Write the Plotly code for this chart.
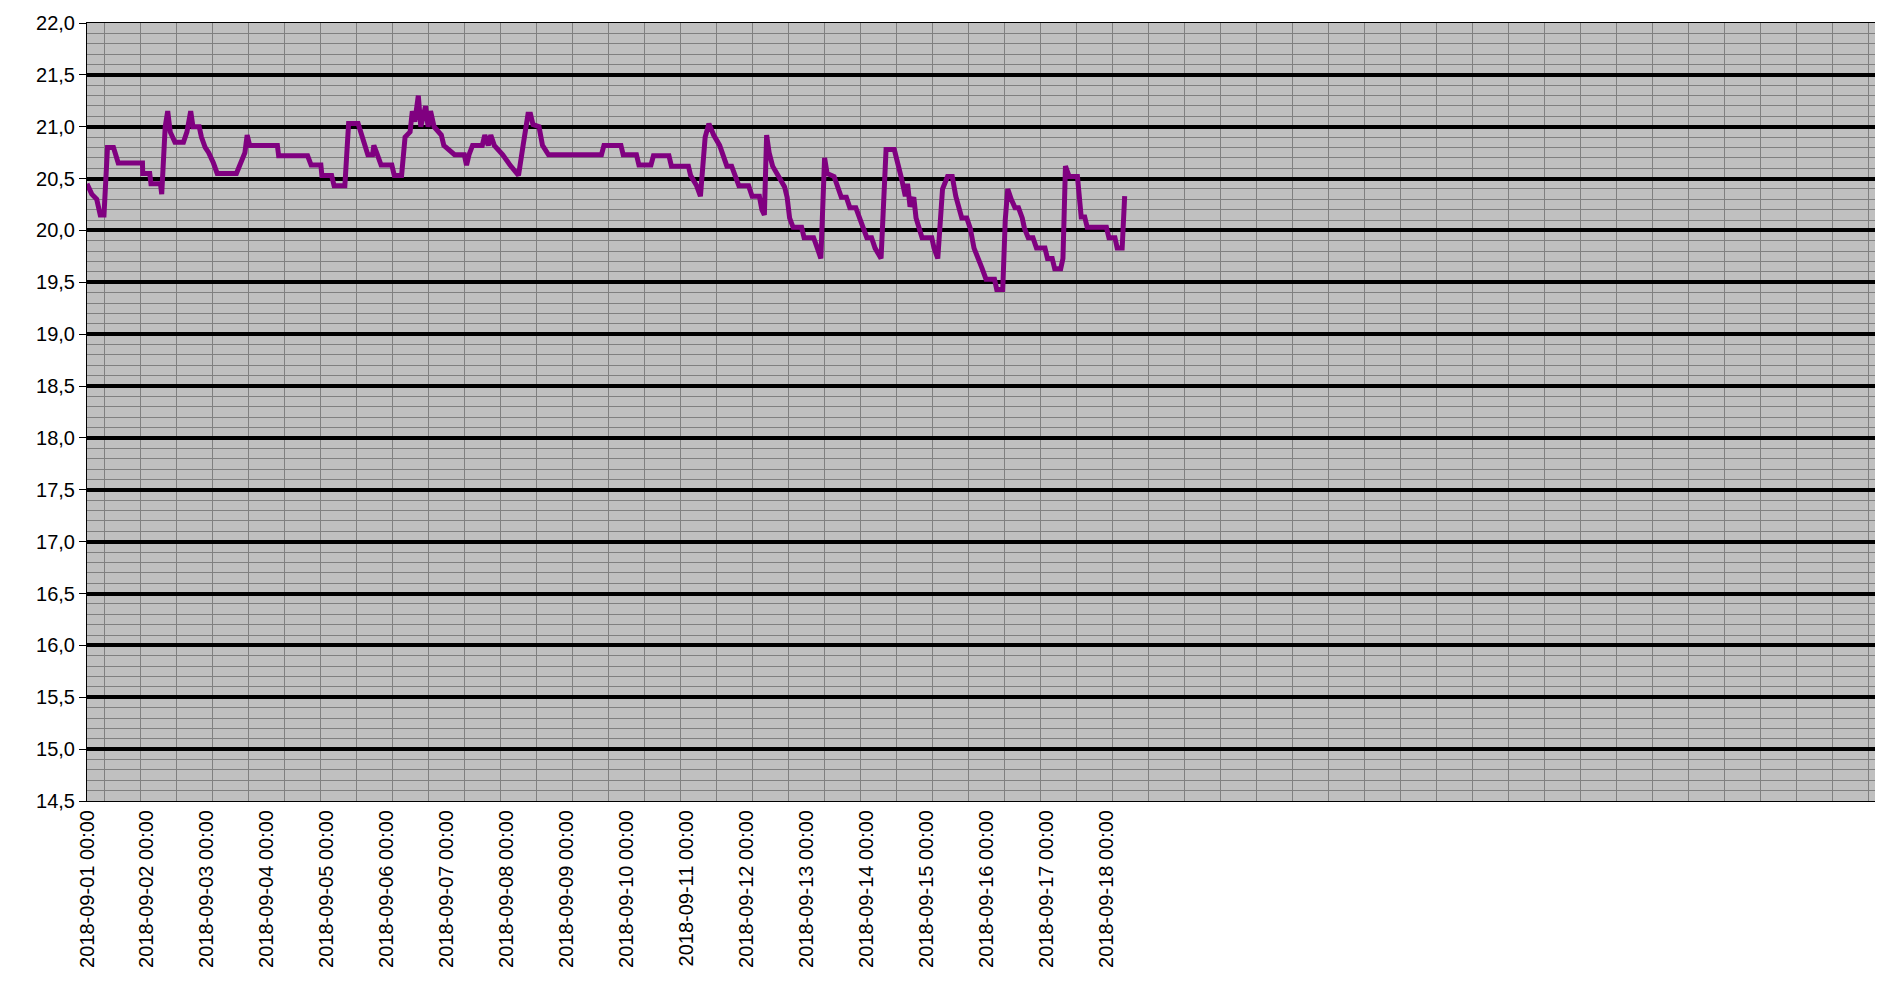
import datetime as dt
import plotly.graph_objects as go

start = dt.datetime(2018, 9, 1)

# hours after 2018-09-01 00:00 and temperature readings
hours = [0, 1.9, 3.9, 5.3, 6.8, 7.7, 8.2, 10.6, 11.6, 12.5, 22.2, 22.3, 25.1, 25.6, 29.4, 29.9,
         31.3, 32.3, 33.3, 35.2, 38.6, 40.0, 41.5, 42.4, 44.9, 45.8, 47.3, 48.7, 50.6, 52.1, 59.8,
         61.3, 63.2, 64.1, 65.1, 76.2, 76.7, 88.3, 89.7, 93.6, 94.0, 97.9, 98.9, 103.2, 104.7,
         108.5, 110.0, 110.9, 112.4, 114.3, 114.8, 116.2, 117.7, 122.0, 123.0, 125.9, 127.3,
         129.3, 130.2, 131.2, 132.6, 133.6, 135.5, 136.5, 137.5, 138.9, 141.8, 142.8, 147.1,
         151.0, 151.9, 152.9, 154.3, 158.2, 159.2, 160.6, 161.6, 163.0, 166.4, 169.3, 172.7,
         174.6, 176.5, 177.5, 178.5, 180.9, 182.3, 184.7, 205.9, 206.9, 213.7, 214.6, 219.9,
         220.9, 225.7, 226.7, 232.9, 233.9, 240.7, 241.6, 244.0, 245.5, 247.4, 248.9, 250.8,
         253.2, 254.7, 256.1, 258.0, 259.5, 260.9, 264.8, 266.2, 269.1, 270.1, 271.1, 272.0,
         273.0, 274.4, 276.8, 279.2, 280.2, 281.2, 282.6, 286.0, 287.0, 290.8, 292.3, 293.7,
         295.2, 296.2, 299.0, 300.5, 301.9, 303.9, 305.3, 307.7, 309.2, 310.6, 312.1, 314.0,
         315.4, 317.8, 319.8, 323.1, 324.6, 326.0, 327.5, 328.4, 329.4, 330.9, 331.8, 334.2,
         338.1, 339.0, 340.5, 342.4, 344.4, 346.3, 347.7, 349.2, 350.1, 352.1, 353.5, 355.0,
         356.9, 358.3, 359.8, 363.2, 364.1, 366.5, 367.5, 368.5, 369.9, 371.4, 372.8, 374.3,
         375.2, 376.7, 378.6, 380.0, 383.4, 384.4, 386.3, 387.3, 389.7, 390.6, 391.6, 393.1,
         396.4, 397.9, 399.3, 400.3, 408.0, 409.0, 411.4, 412.3, 414.3, 415.3]
temps = [20.45, 20.35, 20.3, 20.15, 20.15, 20.6, 20.8, 20.8, 20.7, 20.65, 20.65, 20.55, 20.55, 20.45,
         20.45, 20.35, 21.0, 21.15, 20.95, 20.85, 20.85, 20.95, 21.15, 21.0, 21.0, 20.9, 20.8, 20.75,
         20.65, 20.55, 20.55, 20.65, 20.75, 20.92, 20.82, 20.82, 20.72, 20.72, 20.63, 20.63, 20.53,
         20.53, 20.43, 20.43, 21.03, 21.03, 20.92, 20.83, 20.73, 20.73, 20.82, 20.73, 20.63, 20.63,
         20.53, 20.53, 20.9, 20.95, 21.15, 21.05, 21.3, 21.0, 21.2, 21.0, 21.15, 21.0, 20.92, 20.82,
         20.73, 20.73, 20.63, 20.73, 20.82, 20.82, 20.92, 20.82, 20.92, 20.82, 20.73, 20.63, 20.53,
         20.83, 21.12, 21.12, 21.02, 21.0, 20.82, 20.73, 20.73, 20.82, 20.82, 20.73, 20.73, 20.63,
         20.63, 20.72, 20.72, 20.62, 20.62, 20.53, 20.43, 20.33, 20.9, 21.03, 20.92, 20.82, 20.72,
         20.62, 20.62, 20.53, 20.43, 20.43, 20.33, 20.33, 20.2, 20.15, 20.92, 20.75, 20.62, 20.52,
         20.42, 20.32, 20.12, 20.03, 20.03, 19.93, 19.93, 19.83, 19.73, 20.7, 20.55, 20.52, 20.42,
         20.32, 20.32, 20.22, 20.22, 20.12, 20.03, 19.93, 19.93, 19.83, 19.73, 20.78, 20.78, 20.65,
         20.5, 20.33, 20.45, 20.23, 20.32, 20.12, 19.93, 19.93, 19.83, 19.73, 20.4, 20.52, 20.52,
         20.33, 20.22, 20.12, 20.12, 20.02, 19.83, 19.73, 19.63, 19.53, 19.53, 19.43, 19.43, 20.1,
         20.4, 20.3, 20.22, 20.22, 20.12, 20.02, 19.93, 19.93, 19.83, 19.83, 19.73, 19.73, 19.63,
         19.63, 19.73, 20.62, 20.52, 20.52, 20.13, 20.13, 20.03, 20.03, 19.93, 19.93, 19.83, 19.83,
         20.33]

tick_days = list(range(18))

x = [start + dt.timedelta(hours=h) for h in hours]
tickvals = [start + dt.timedelta(days=d) for d in tick_days]

fig = go.Figure()
fig.add_trace(go.Scatter(x=x, y=temps, mode="lines",
                         line=dict(color="#800080", width=5), showlegend=False))

fig.update_layout(
    width=1883, height=986,
    margin=dict(l=79, r=4, t=12, b=193),
    paper_bgcolor="white", plot_bgcolor="#C0C0C0",
    separators=",.",
    font=dict(family="Liberation Sans, Arial", size=20, color="black"),
)
fig.update_xaxes(
    range=[start, start + dt.timedelta(days=30)],
    tickvals=tickvals, tickformat="%Y-%m-%d %H:%M", tickangle=-90,
    showgrid=False, zeroline=False,
    showline=True, linecolor="black", linewidth=1, mirror=True,
    ticks="",
    minor=dict(showgrid=True, gridcolor="#808080", gridwidth=1,
               tick0=start + dt.timedelta(hours=21.6), dtick=0.6 * 86400000),
)
fig.update_yaxes(
    range=[14.5, 22.0], dtick=0.5, tick0=14.5, tickformat=".1f",
    showgrid=True, gridcolor="black", gridwidth=4, zeroline=False,
    showline=True, linecolor="black", linewidth=1, mirror=True,
    ticks="outside", ticklen=7, tickcolor="black",
    minor=dict(showgrid=True, gridcolor="#808080", gridwidth=1, dtick=0.1),
)

fig.write_html("out.html")
